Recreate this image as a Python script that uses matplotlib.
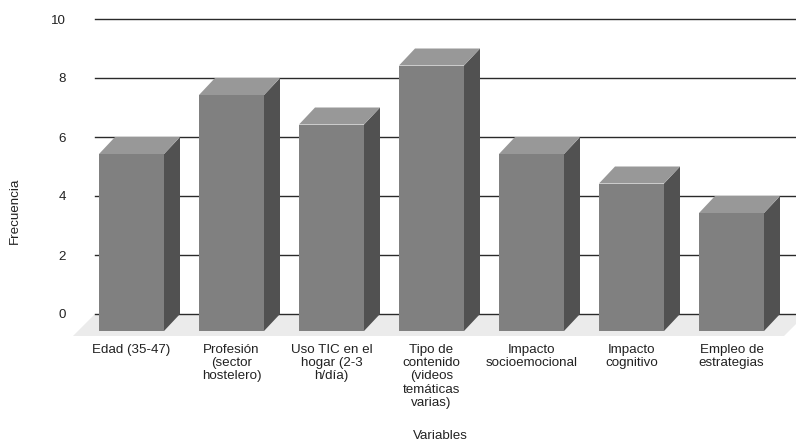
import matplotlib
matplotlib.use("Agg")
import matplotlib.pyplot as plt
from matplotlib.patches import Polygon
from matplotlib.transforms import IdentityTransform
import numpy as np

plt.rcParams['font.family'] = ['Liberation Sans', 'DejaVu Sans']

categories = ["Edad (35-47)", "Profesión\n(sector\nhostelero)", "Uso TIC en el\nhogar (2-3\nh/día)",
              "Tipo de\ncontenido\n(videos\ntemáticas\nvarias)", "Impacto\nsocioemocional",
              "Impacto\ncognitivo", "Empleo de\nestrategias"]
values = [6, 8, 7, 9, 6, 5, 4]
yticks = [0, 2, 4, 6, 8, 10]

W, H, DPI = 796, 441, 100
FS = 9.6
fig = plt.figure(figsize=(W / DPI, H / DPI), dpi=DPI)
ax = fig.add_axes([95 / W, (H - 314) / H, 701 / W, 295 / H])
ax.set_xlim(-0.525, 6.485)
ax.set_ylim(0, 10)
for s in ax.spines.values():
    s.set_visible(False)
ax.set_xticks([])
ax.set_yticks(yticks)
ax.tick_params(axis='y', length=0, pad=21, labelsize=FS, labelcolor='#222222')
ax.patch.set_visible(False)
for t in yticks:
    ax.axhline(t, color='#2a2a2a', linewidth=1.0, zorder=1, clip_on=False)

DX, DY = 16, 17     # bar depth in pixels
FD = 22             # floor depth
bw = 0.65
tr = ax.transData

def poly(pts, color, z):
    p = Polygon(pts, closed=True, facecolor=color, edgecolor='none',
                transform=IdentityTransform(), zorder=z, clip_on=False)
    ax.add_artist(p)

# floor
bl = tr.transform((-0.525, 0))
br = tr.transform((6.485, 0))
poly([(bl[0], bl[1]), (br[0] + 10, br[1]), (br[0] + 10 - FD, br[1] - FD), (bl[0] - FD, bl[1] - FD)],
     '#ebebeb', 0.2)

for i, v in enumerate(values):
    x0b, y0b = tr.transform((i - bw / 2, 0))
    x1b, y1b = tr.transform((i + bw / 2, v))
    x0f, y0f, x1f, y1f = x0b - DX, y0b - DY, x1b - DX, y1b - DY
    # side
    poly([(x1f, y0f), (x1b, y0b), (x1b, y1b), (x1f, y1f)], '#515151', 3)
    # top
    poly([(x0f, y1f), (x1f, y1f), (x1b, y1b), (x0b, y1b)], '#989898', 3)
    # front
    poly([(x0f, y0f), (x1f, y0f), (x1f, y1f), (x0f, y1f)], '#808080', 3)
    # label
    lx, ly = (x0f + x1f) / 2, y0f - 13
    fig.text(lx / W, ly / H, categories[i], ha='center', va='top', fontsize=FS,
             color='#222222', linespacing=1.13, multialignment='center')

fig.text(15 / W, (H - 211) / H, "Frecuencia", rotation=90, ha='center', va='center',
         fontsize=FS, color='#222222')
fig.text(440 / W, (H - 436) / H, "Variables", ha='center', va='center', fontsize=FS, color='#222222')

fig.savefig("out.png", dpi=DPI)
